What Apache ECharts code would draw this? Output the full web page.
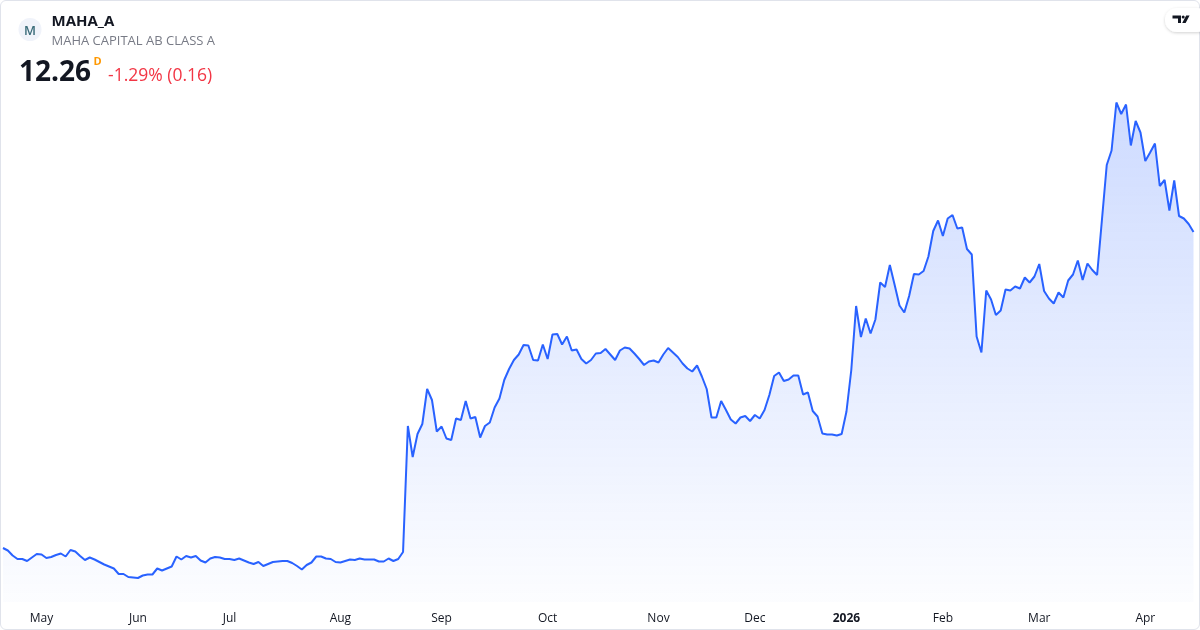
<!DOCTYPE html>
<html>
<head>
<meta charset="utf-8">
<script src="https://cdn.jsdelivr.net/npm/echarts@6/dist/echarts.min.js"></script>
<style>
  html, body { margin: 0; padding: 0; background: #ffffff; }
  #wrap { position: relative; width: 1200px; height: 630px; overflow: hidden; }
  #frame { position: absolute; left: 0; top: 0; width: 1198px; height: 628px; border: 1px solid #e0e3eb; border-radius: 6px; }
  #chart { position: absolute; left: 0; top: 0; width: 1200px; height: 630px; }
  #overlay { position: absolute; left: 0; top: 0; width: 1200px; height: 630px; pointer-events: none; }
</style>
</head>
<body>
<div id="wrap">
  <div id="frame"></div>
  <div id="chart"></div>
  <svg id="overlay" width="1200" height="630" xmlns="http://www.w3.org/2000/svg">
    <defs>
      <filter id="sh" x="-30%" y="-30%" width="160%" height="180%">
        <feDropShadow dx="0" dy="1" stdDeviation="1.6" flood-color="#000" flood-opacity="0.18"/>
      </filter>
    </defs>
    <circle cx="30" cy="29.5" r="11.5" fill="#f0f3fa"/>
    <text x="30" y="34.5" text-anchor="middle" font-family="Open Sans" font-size="13" font-weight="600" fill="#3b6c7a">M</text>
    <text x="51.5" y="26" font-family="Open Sans" font-size="15" font-weight="700" fill="#131722">MAHA_A</text>
    <text x="51.5" y="45" font-family="Open Sans" font-size="13" fill="#787b86">MAHA CAPITAL AB CLASS A</text>
    <text x="19" y="81" font-family="Open Sans" font-size="28" font-weight="700" fill="#131722">12.26</text>
    <text x="93.5" y="65" font-family="Open Sans" font-size="11" font-weight="700" fill="#ff9800">D</text>
    <text x="108" y="81" font-family="Open Sans" font-size="17.5" fill="#f23645">-1.29% (0.16)</text>
    <rect x="1165" y="8" width="44" height="24" rx="12" fill="#ffffff" filter="url(#sh)"/>
    <path d="M1172.5 15.5 H1181 V23 H1178 V18.5 H1172.5 Z" fill="#131722"/>
    <circle cx="1183.2" cy="17" r="1.5" fill="#131722"/>
    <path d="M1186.2 15.5 H1189.6 L1185.6 23 H1182.2 Z" fill="#131722"/>
  </svg>
</div>
<script>
// ---- data ----
const holidays = ['2025-04-18','2025-04-21','2025-05-01','2025-05-29','2025-06-06','2025-06-20',
  '2025-12-24','2025-12-25','2025-12-26','2025-12-31','2026-01-01','2026-01-06','2026-04-03','2026-04-06'];
const firstDay = '2025-04-17';
const lastDay = '2026-04-17';
const monthNames = ['Jan','Feb','Mar','Apr','May','Jun','Jul','Aug','Sep','Oct','Nov','Dec'];

const closeAprJun = [5.94,5.89,5.79,5.72,5.72,5.68,5.75,5.82,5.81,5.74,
  5.76,5.80,5.83,5.77,5.90,5.87,5.78,5.70,5.75,5.71,
  5.66,5.61,5.57,5.53,5.42,5.42,5.36,5.35,5.34,5.39,
  5.41,5.41,5.53,5.49,5.53,5.57,5.77,5.71,5.78,5.75,
  5.78,5.69,5.65,5.73,5.76,5.75,5.72];
const closeJulSep = [5.72,5.70,5.73,
  5.69,5.65,5.62,5.66,5.58,5.62,5.66,5.67,5.68,5.68,
  5.64,5.58,5.51,5.60,5.65,5.77,5.77,5.73,5.72,5.66,
  5.65,5.68,5.71,5.70,5.73,5.71,5.71,5.71,5.67,5.67,
  5.73,5.68,5.72,5.86,8.38,7.76,8.22,8.42,9.12,8.90,
  8.27,8.37,8.13,8.10,8.53,8.50,8.88,8.53,8.56,8.15,
  8.38,8.45,8.75,8.93,9.30,9.52,9.70,9.81,10.00,9.99,
  9.70,9.69,10.01];
const closeOctDec = [9.72,10.21,10.22,10.01,10.17,9.89,9.91,
  9.72,9.63,9.70,9.83,9.84,9.92,9.81,9.70,9.89,9.95,
  9.93,9.83,9.72,9.60,9.67,9.69,9.65,9.81,9.94,9.85,
  9.76,9.63,9.53,9.47,9.59,9.37,9.12,8.55,8.55,8.88,
  8.70,8.51,8.43,8.55,8.58,8.48,8.60,8.53,8.70,9.00,
  9.38,9.45,9.28,9.31,9.39,9.39,9.01,9.05,8.68,8.57,
  8.23,8.21,8.21,8.19,8.22];
const closeJanApr = [8.67,9.50,10.78,10.16,10.53,
  10.23,10.51,11.25,11.16,11.60,11.20,10.79,10.65,10.98,11.42,
  11.41,11.48,11.77,12.28,12.49,12.18,12.53,12.60,12.33,12.35,
  11.92,11.81,10.17,9.85,11.09,10.91,10.60,10.69,11.11,11.09,
  11.17,11.13,11.35,11.25,11.37,11.62,11.08,10.93,10.83,11.05,
  10.95,11.29,11.41,11.69,11.30,11.63,11.50,11.40,12.50,13.60,
  13.89,14.85,14.62,14.81,13.99,14.48,14.25,13.68,13.85,14.03,
  13.18,13.30,12.69,13.29,12.58,12.53,12.42,12.26];

// ---- build category dates (trading days) ----
function fmt(d) {
  const m = String(d.getUTCMonth() + 1).padStart(2, '0');
  const dd = String(d.getUTCDate()).padStart(2, '0');
  return d.getUTCFullYear() + '-' + m + '-' + dd;
}
const dates = [];
{
  const d = new Date(firstDay + 'T00:00:00Z');
  const end = new Date(lastDay + 'T00:00:00Z');
  while (d <= end) {
    const wd = d.getUTCDay();
    const s = fmt(d);
    if (wd !== 0 && wd !== 6 && holidays.indexOf(s) < 0) dates.push(s);
    d.setUTCDate(d.getUTCDate() + 1);
  }
}
const closes = closeAprJun.concat(closeJulSep, closeOctDec, closeJanApr);

const chart = echarts.init(document.getElementById('chart'), null, { renderer: 'canvas' });
const labelFont = { fontFamily: 'Open Sans', fontSize: 12, color: '#131722' };

chart.setOption({
  animation: false,
  grid: { left: 3, right: 6.5, top: 82, bottom: 28, containLabel: false },
  xAxis: {
    type: 'category',
    data: dates,
    boundaryGap: false,
    axisLine: { show: false },
    axisTick: { show: false },
    splitLine: { show: false },
    axisLabel: Object.assign({
      margin: 11,
      hideOverlap: false,
      interval: function (idx, val) {
        return idx > 0 && val.slice(0, 7) !== dates[idx - 1].slice(0, 7);
      },
      formatter: function (val) {
        const y = val.slice(0, 4), m = parseInt(val.slice(5, 7), 10);
        return m === 1 ? '{b|' + y + '}' : monthNames[m - 1];
      },
      rich: { b: Object.assign({ fontWeight: 'bold' }, labelFont) }
    }, labelFont)
  },
  yAxis: {
    type: 'value',
    min: 4.86,
    max: 15.26,
    show: false,
    splitLine: { show: false }
  },
  series: [{
    type: 'line',
    data: closes,
    symbol: 'none',
    smooth: false,
    lineStyle: { color: '#2962ff', width: 2 },
    areaStyle: {
      color: new echarts.graphic.LinearGradient(0, 0, 0, 1, [
        { offset: 0, color: 'rgba(41,98,255,0.33)' },
        { offset: 1, color: 'rgba(41,98,255,0.02)' }
      ])
    }
  }]
});
</script>
</body>
</html>
